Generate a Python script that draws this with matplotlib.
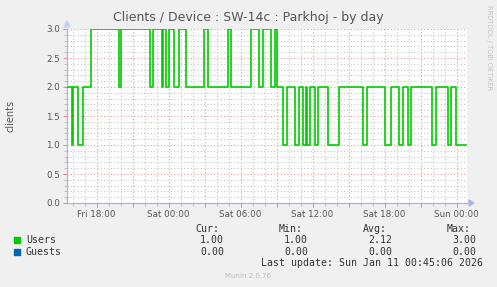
import matplotlib
matplotlib.use("Agg")
import matplotlib.pyplot as plt
from matplotlib.ticker import MultipleLocator, FixedLocator

# change points, hours counted from Fri 00:00, and the level that starts there
change_hours = [15.54, 15.93, 16.04, 16.48, 16.85, 17.54, 19.85, 20.0, 22.42, 22.71,
                23.42, 23.58, 23.83, 24.0, 24.46, 24.85, 25.43, 26.96, 27.27, 28.96,
                29.23, 30.85, 31.54, 31.88, 32.52, 32.88, 33.02, 33.57, 33.88, 34.5,
                34.88, 35.23, 35.42, 35.57, 35.83, 36.17, 36.42, 37.27, 38.17, 40.17,
                40.5, 42.04, 42.52, 43.17, 43.5, 43.96, 44.21, 45.93, 46.25, 47.25,
                47.54, 47.93]
users = [2, 1, 2, 1, 2, 3, 2, 3, 2, 3,
         2, 3, 2, 3, 2, 3, 2, 3, 2, 3,
         2, 3, 2, 3, 2, 3, 2, 1, 2, 1,
         2, 1, 2, 1, 2, 1, 2, 1, 2, 1,
         2, 1, 2, 1, 2, 1, 2, 1, 2, 1,
         2, 1]
end_hour = 48.83
start_hour = 15.54
view_end = 48.875

tick_hours = [18, 24, 30, 36, 42, 48]
tick_labels = ["Fri 18:00", "Sat 00:00", "Sat 06:00", "Sat 12:00", "Sat 18:00", "Sun 00:00"]

legend_names = ["Users", "Guests"]
legend_colors = ["#00cc00", "#0066b3"]
stat_heads = ["Cur:", "Min:", "Avg:", "Max:"]
stats = [["1.00", "1.00", "2.12", "3.00"],
         ["0.00", "0.00", "0.00", "0.00"]]

W, H = 497, 287
BG = "#f0f0f0"
AXIS = "#a9b5e6"

fig = plt.figure(figsize=(W / 100, H / 100), dpi=100, facecolor=BG)


def fx(px):
    return px / W


def fy(py):
    return 1 - py / H


ax = fig.add_axes([fx(67), fy(203), 400 / W, 174 / H])
ax.set_facecolor("white")

xs = change_hours + [end_hour]
ys = users + [users[-1]]
ax.step(xs, ys, where="post", color=legend_colors[0], lw=1.2, zorder=3)

ax.set_xlim(start_hour, view_end)
ax.set_ylim(0, 3.0)

# grid: minor grey, major red
ax.xaxis.set_minor_locator(MultipleLocator(1))
ax.yaxis.set_minor_locator(MultipleLocator(0.1))
major_x = list(range(18, 49, 3))
ax.xaxis.set_major_locator(FixedLocator(major_x))
ax.set_xticklabels([tick_labels[tick_hours.index(h)] if h in tick_hours else ""
                    for h in major_x])
ax.set_yticks([0, 0.5, 1.0, 1.5, 2.0, 2.5, 3.0])
ax.set_yticklabels(["%.1f" % v for v in [0, 0.5, 1.0, 1.5, 2.0, 2.5, 3.0]])
ax.grid(which="minor", color="#c4c4c4", ls=(0, (1, 2)), lw=0.8)
ax.grid(which="major", color="#e79a9a", ls=(0, (1, 2)), lw=0.8)

ax.tick_params(which="major", axis="x", color="#e88080", length=3, width=0.7,
               direction="out", labelsize=6.3, labelcolor="#555555", pad=2)
ax.tick_params(which="minor", axis="x", color="#bbbbbb", length=2, width=0.7, direction="out")
ax.tick_params(which="major", axis="y", color="#e88080", length=3, width=0.7,
               direction="out", labelsize=6.3, labelcolor="#555555", pad=2)
ax.tick_params(which="minor", axis="y", color="#bbbbbb", length=2, width=0.7, direction="out")

for s in ["top", "right"]:
    ax.spines[s].set_visible(False)
for s in ["left", "bottom"]:
    ax.spines[s].set_color(AXIS)
    ax.spines[s].set_linewidth(0.9)

# axis arrows
fig.patches.append(plt.Polygon([[fx(469), fy(200)], [fx(474), fy(203)], [fx(469), fy(206)]],
                               closed=True, color=AXIS, transform=fig.transFigure))
fig.patches.append(plt.Polygon([[fx(64), fy(27)], [fx(67), fy(21)], [fx(70), fy(27)]],
                               closed=True, color="#c8d0f0", transform=fig.transFigure))

fig.text(fx(248.5), fy(17.5), "Clients / Device : SW-14c : Parkhoj - by day",
         ha="center", va="center", fontsize=9, color="#555555")
fig.text(fx(11), fy(116), "clients", rotation=90, ha="center", va="center",
         fontsize=7, color="#555555")
fig.text(fx(489), fy(5), "RRDTOOL / TOBI OETIKER", rotation=270, ha="center", va="top",
         fontsize=4.8, color="#c4c4c4")

mono = "DejaVu Sans Mono"
fs = 7.15
head_x = [195, 279, 363, 447]
val_x = [200, 284, 368, 452]
for x, t in zip(head_x, stat_heads):
    fig.text(fx(x), fy(228.5), t, family=mono, fontsize=fs, color="#333333", va="center")
rows_y = [239.7, 251.7]
for name, col, vals, y in zip(legend_names, legend_colors, stats, rows_y):
    fig.patches.append(plt.Rectangle((fx(14), fy(y + 3)), 6 / W, 6 / H, color=col,
                                     transform=fig.transFigure))
    fig.text(fx(26), fy(y), name, family=mono, fontsize=fs, color="#333333", va="center")
    for x, v in zip(val_x, vals):
        fig.text(fx(x), fy(y), v, family=mono, fontsize=fs, color="#333333", va="center")
fig.text(fx(261), fy(263.5), "Last update: Sun Jan 11 00:45:06 2026", family=mono,
         fontsize=fs, color="#333333", va="center")
fig.text(fx(248), fy(276.5), "Munin 2.0.76", ha="center", va="center",
         fontsize=5, color="#bbbbbb")

fig.savefig("out.png", dpi=100, facecolor=BG)
